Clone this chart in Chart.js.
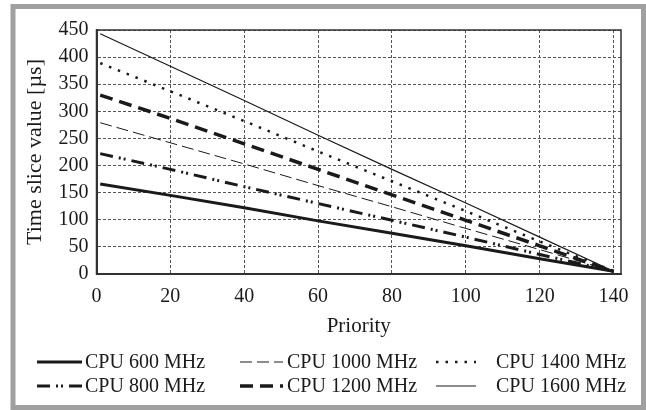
<!DOCTYPE html>
<html>
<head>
<meta charset="utf-8">
<script src="https://cdn.jsdelivr.net/npm/chart.js@4"></script>
<style>
  html, body { margin: 0; padding: 0; background: #fff; }
  #wrap { width: 646px; height: 410px; position: relative; }
</style>
</head>
<body>
<div id="wrap"><canvas id="chart"></canvas></div>
<script>
// priority values where the lines were read
const priorities = [1, 20, 40, 60, 80, 100, 120, 140];
const cpu600  = [166, 145, 122, 98, 75, 52, 28, 5];
const cpu800  = [222, 193, 161, 130, 99, 68, 36, 5];
const cpu1000 = [279, 242, 203, 163, 124, 84, 45, 5];
const cpu1200 = [330, 287, 240, 193, 146, 99, 52, 5];
const cpu1400 = [389, 337, 282, 226, 171, 116, 60, 5];
const cpu1600 = [443, 383, 320, 256, 193, 131, 68, 5];
const seriesLabels = ['CPU 600 MHz', 'CPU 800 MHz', 'CPU 1000 MHz', 'CPU 1200 MHz', 'CPU 1400 MHz', 'CPU 1600 MHz'];
const xTicks = [0, 20, 40, 60, 80, 100, 120, 140];
const yTicks = [0, 50, 100, 150, 200, 250, 300, 350, 400, 450];

const FONT = '"Liberation Serif", "Times New Roman", serif';
const INK = '#1a1a1a';

function pts(ys) {
	return priorities.map((p, i) => ({ x: p, y: ys[i] }));
}

// line styles per series
const styles = [
	{ borderWidth: 3, borderDash: [] },
	{ borderWidth: 3, borderDash: [13, 6, 2, 3, 2, 6] },
	{ borderWidth: 1, borderDash: [12, 5] },
	{ borderWidth: 3.5, borderDash: [13, 7] },
	{ borderWidth: 2.5, borderDash: [2.5, 7] },
	{ borderWidth: 1.2, borderDash: [] }
];
const allSeries = [cpu600, cpu800, cpu1000, cpu1200, cpu1400, cpu1600];

// gray frame around the figure + plot box outline
const framePlugin = {
	id: 'frame',
	beforeDraw(chart) {
		let ctx = chart.ctx;
		ctx.save();
		ctx.fillStyle = '#fff';
		ctx.fillRect(0, 0, chart.width, chart.height);
		ctx.strokeStyle = '#a0a0a0';
		ctx.lineWidth = 5;
		ctx.strokeRect(13, 6.5, 630.5, 401);
		ctx.restore();
	},
	afterDraw(chart) {
		let a = chart.chartArea, ctx = chart.ctx;
		ctx.save();
		ctx.strokeStyle = '#333';
		ctx.lineWidth = 1.5;
		ctx.strokeRect(a.left, a.top, a.right - a.left, a.bottom - a.top);
		ctx.restore();
	}
};

// two-row legend, column-major like the original
const legendPlugin = {
	id: 'rowLegend',
	afterDraw(chart) {
		let ctx = chart.ctx;
		let rows = [362, 386];
		let cols = [
			{ s0: 37, s1: 82, t: 85 },
			{ s0: 240, s1: 283, t: 287 },
			{ s0: 436, s1: 476, t: 496 }
		];
		ctx.save();
		ctx.font = '20px ' + FONT;
		ctx.textBaseline = 'middle';
		chart.data.datasets.forEach((ds, i) => {
			let c = cols[Math.floor(i / 2)], y = rows[i % 2];
			ctx.strokeStyle = INK;
			ctx.lineWidth = ds.borderWidth;
			ctx.setLineDash(ds.borderDash || []);
			ctx.beginPath();
			ctx.moveTo(c.s0, y);
			ctx.lineTo(c.s1, y);
			ctx.stroke();
			ctx.setLineDash([]);
			ctx.fillStyle = INK;
			ctx.fillText(ds.label, c.t, y + 1);
		});
		ctx.restore();
	}
};

const datasets = allSeries.map((ys, i) => ({
	label: seriesLabels[i],
	data: pts(ys),
	borderColor: INK,
	borderWidth: styles[i].borderWidth,
	borderDash: styles[i].borderDash,
	pointRadius: 0,
	fill: false,
	tension: 0
}));

const gridStyle = { color: '#555', lineWidth: 1, drawTicks: false };

new Chart(document.getElementById('chart'), {
	type: 'line',
	data: { datasets: datasets },
	options: {
		responsive: true,
		maintainAspectRatio: false,
		animation: false,
		layout: { padding: { left: 18, right: 25, top: 30, bottom: 62 } },
		plugins: {
			legend: { display: false },
			tooltip: { enabled: false }
		},
		scales: {
			x: {
				type: 'linear',
				min: 0,
				max: 142,
				afterBuildTicks: s => { s.ticks = xTicks.map(v => ({ value: v })); },
				afterFit: s => { s.height = 74; },
				grid: gridStyle,
				// in v4 border.dash styles the grid lines
				border: { display: true, color: '#333', width: 2, dash: [3, 2] },
				ticks: { color: INK, font: { family: FONT, size: 20 }, padding: 11, maxRotation: 0 },
				title: { display: true, text: 'Priority', color: INK, font: { family: FONT, size: 21 }, padding: { top: 0, bottom: 9 } }
			},
			y: {
				min: 0,
				max: 450,
				afterBuildTicks: s => { s.ticks = yTicks.map(v => ({ value: v })); },
				afterFit: s => { s.width = 78.5; },
				grid: gridStyle,
				border: { display: true, color: '#333', width: 2, dash: [3, 2] },
				ticks: { color: INK, font: { family: FONT, size: 20 }, padding: 8 },
				title: { display: true, text: 'Time slice value [µs]', color: INK, font: { family: FONT, size: 22 }, padding: { top: 4, bottom: 0 } }
			}
		}
	},
	plugins: [framePlugin, legendPlugin]
});
</script>
</body>
</html>
